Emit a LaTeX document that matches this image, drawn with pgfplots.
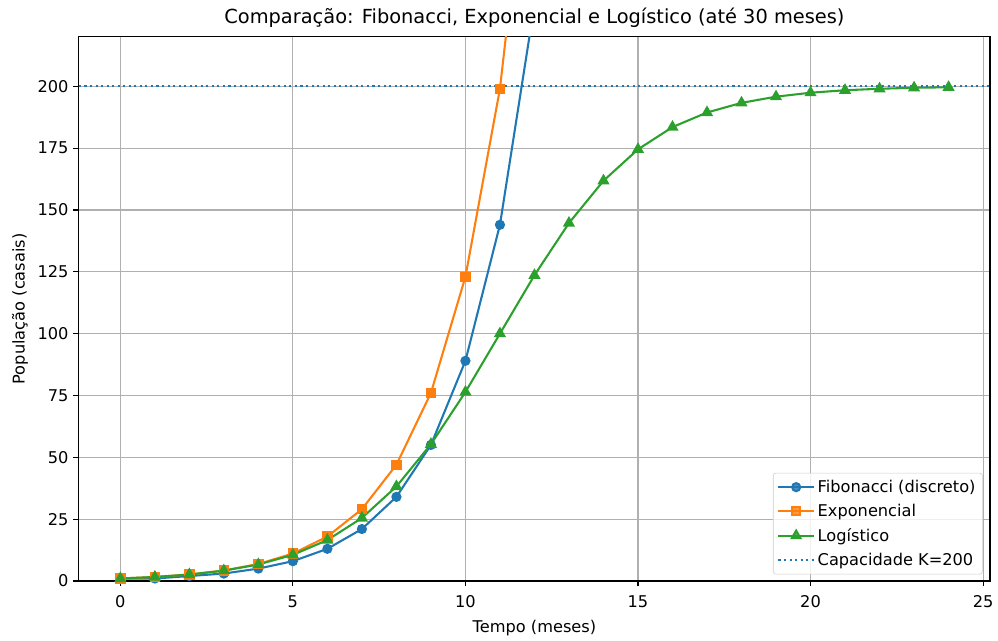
\documentclass[border=0pt]{standalone}
\usepackage{fontspec}
\setmainfont{DejaVu Sans}
\usepackage{pgfplots}
\pgfplotsset{compat=1.18}
\definecolor{tabblue}{HTML}{1F77B4}
\definecolor{taborange}{HTML}{FF7F0E}
\definecolor{tabgreen}{HTML}{2CA02C}
\definecolor{gridgray}{HTML}{B0B0B0}

\begin{document}
\begin{tikzpicture}
\begin{axis}[
    scale only axis,
    width=658pt, height=393pt,
    xmin=-1.2, xmax=25.2,
    ymin=0, ymax=220,
    xtick={0,5,10,15,20,25},
    ytick={0,25,50,75,100,125,150,175,200},
    grid=major,
    grid style={gridgray, line width=0.8pt},
    axis line style={line width=0.8pt},
    tick style={black, line width=0.8pt},
    tick align=outside,
    major tick length=4pt,
    xtick pos=bottom, ytick pos=left,
    tick label style={font=\fontsize{11.7}{14}\selectfont},
    xticklabel style={yshift=-3pt},
    /pgf/number format/assume math mode=true,
    title={Comparação: Fibonacci, Exponencial e Logístico (até 30 meses)},
    title style={font=\fontsize{14}{16}\selectfont, yshift=-3pt},
    xlabel={Tempo (meses)},
    ylabel={População (casais)},
    label style={font=\fontsize{11.7}{14}\selectfont},
    xlabel style={yshift=-2pt},
    ylabel style={yshift=0pt},
    legend cell align=left,
    legend style={font=\fontsize{11.7}{14}\selectfont, draw=black!20, rounded corners=2pt,
        fill=white, fill opacity=0.8, text opacity=1, inner sep=3pt,
        at={(0.992,0.012)}, anchor=south east, row sep=3pt},
    legend image code/.code={
        \draw[mark repeat=2,mark phase=2,#1] plot coordinates {(0cm,0cm) (0.45cm,0cm) (0.9cm,0cm)};
    },
    every axis plot/.append style={line width=1.5pt},
    restrict y to domain=-10:2000,
]
\addplot[tabblue, mark=*, mark size=2.9pt] coordinates {
(0,1) (1,1) (2,2) (3,3) (4,5) (5,8) (6,13) (7,21) (8,34) (9,55) (10,89) (11,144) (12,233) (13,377) (14,610) (15,987) (16,1597)
};
\addlegendentry{Fibonacci (discreto)}
\addplot[taborange, mark=square*, mark size=3pt] coordinates {
(0,1) (1,1.618) (2,2.618) (3,4.236) (4,6.854) (5,11.09) (6,17.94) (7,29.03) (8,46.98) (9,76.01) (10,122.99) (11,199.0) (12,321.99) (13,521.0) (14,842.98) (15,1364.0)
};
\addlegendentry{Exponencial}
\addplot[tabgreen, mark=triangle*, mark size=3.6pt] coordinates {
(0,1) (1,1.613) (2,2.597) (3,4.168) (4,6.66) (5,10.56) (6,16.54) (7,25.46) (8,38.20) (9,55.28) (10,76.39) (11,100.0) (12,123.6) (13,144.7) (14,161.8) (15,174.5) (16,183.5) (17,189.4) (18,193.3) (19,195.8) (20,197.4) (21,198.4) (22,199.0) (23,199.4) (24,199.6)
};
\addlegendentry{Logístico}
\addplot[tabblue, dash pattern=on 1.5pt off 2.5pt, line width=1.5pt] coordinates {(-1.2,200) (25.2,200)};
\addlegendentry{Capacidade K=200}
\end{axis}
\path (current axis.south west) ++(-57pt,-37.5pt) (current axis.north east) ++(3.6pt,26.6pt);
\end{tikzpicture}
\end{document}
